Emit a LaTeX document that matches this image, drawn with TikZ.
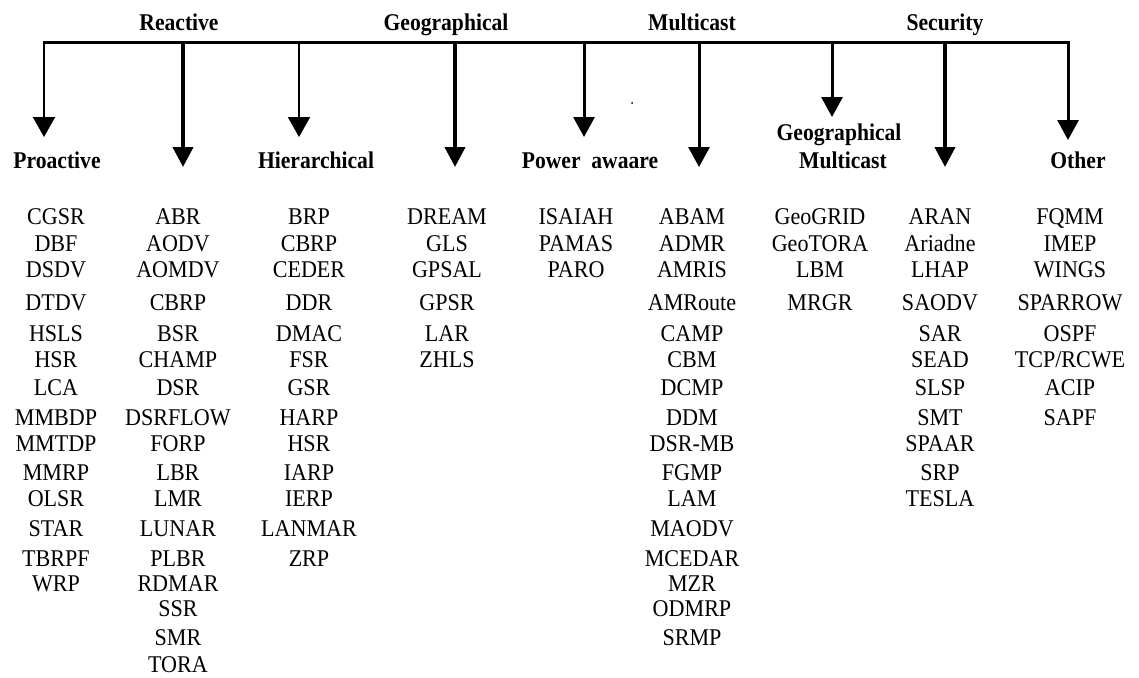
\documentclass[tikz,border=0pt]{standalone}
\usepackage{fontspec}
\usetikzlibrary{arrows.meta}
\newfontfamily\itemfont[FakeStretch=0.92]{Liberation Serif}
\newfontfamily\headfont[FakeStretch=0.9]{Liberation Serif}
\tikzset{
  item/.style={font=\itemfont\fontsize{24}{26}\selectfont, inner sep=0pt, text height=16pt, text depth=0pt, anchor=center},
  head/.style={font=\headfont\bfseries\fontsize{24}{26}\selectfont, inner sep=0pt, text height=16pt, text depth=0pt, anchor=center},
  bus/.style={line width=3pt, line cap=rect},
  thinarrow/.style={line width=2pt, -{Triangle[width=22pt,length=20pt]}},
  midarrow/.style={line width=3pt, -{Triangle[width=21pt,length=20pt]}},
  thickarrow/.style={line width=4pt, -{Triangle[width=20pt,length=20pt]}},
}
\newcommand\mkcol[3]{%
  \foreach \t [count=\i] in {#3} {%
    \pgfmathsetmacro\myrowy{{216,243,269,302,333,359,387,417,443,472,498,528,558,583,608,637,664}[\i-1]}%
    \node[item] (#1\i) at (#2,\myrowy) {\t};
  }%
}
\begin{document}
\begin{tikzpicture}[x=1pt,y=-1pt]
\useasboundingbox (0,0) rectangle (1139,677);
% top labels
\node[head] (hReactive) at (179,23) {Reactive};
\node[head] (hGeo) at (446,23) {Geographical};
\node[head] (hMulti) at (692,23) {Multicast};
\node[head] (hSec) at (945,23) {Security};
% bus
\coordinate (busL) at (44,43);
\coordinate (busR) at (1068,43);
\draw[bus] (busL) -- (busR);
% branch points
\coordinate (bPro) at (44,43);
\coordinate (bRea) at (183,43);
\coordinate (bHie) at (299,43);
\coordinate (bGeo) at (455,43);
\coordinate (bPow) at (584,43);
\coordinate (bMul) at (699,43);
\coordinate (bGM) at (832,43);
\coordinate (bSec) at (945,43);
\coordinate (bOth) at (1068,43);
% tips
\coordinate (tPro) at (44,137);
\coordinate (tRea) at (183,167);
\coordinate (tHie) at (299,137);
\coordinate (tGeo) at (455,167);
\coordinate (tPow) at (584,137);
\coordinate (tMul) at (699,167);
\coordinate (tGM) at (832,117);
\coordinate (tSec) at (945,167);
\coordinate (tOth) at (1068,140);
\draw[thinarrow] (bPro) -- (tPro);
\draw[thickarrow] (bRea) -- (tRea);
\draw[thinarrow] (bHie) -- (tHie);
\draw[thickarrow] (bGeo) -- (tGeo);
\draw[midarrow] (bPow) -- (tPow);
\draw[midarrow] (bMul) -- (tMul);
\draw[midarrow] (bGM) -- (tGM);
\draw[thickarrow] (bSec) -- (tSec);
\draw[midarrow] (bOth) -- (tOth);
% second-level labels
\node[head] (lPro) at (57,160) {Proactive};
\node[head] (lHie) at (316,160) {Hierarchical};
\node[head] (lPow) at (590,160) {Power\ \ awaare};
\node[head] (lGM1) at (839,132) {Geographical};
\node[head] (lGM2) at (843,160) {Multicast};
\node[head] (lOth) at (1078,160) {Other};
% stray dot
\fill (632,103) circle (1pt);
% columns
\mkcol{pro}{56}{CGSR,DBF,DSDV,DTDV,HSLS,HSR,LCA,MMBDP,MMTDP,MMRP,OLSR,STAR,TBRPF,WRP}
\mkcol{rea}{178}{ABR,AODV,AOMDV,CBRP,BSR,CHAMP,DSR,DSRFLOW,FORP,LBR,LMR,LUNAR,PLBR,RDMAR,SSR,SMR,TORA}
\mkcol{hie}{309}{BRP,CBRP,CEDER,DDR,DMAC,FSR,GSR,HARP,HSR,IARP,IERP,LANMAR,ZRP}
\mkcol{geo}{447}{DREAM,GLS,GPSAL,GPSR,LAR,ZHLS}
\mkcol{pow}{576}{ISAIAH,PAMAS,PARO}
\mkcol{mul}{692}{ABAM,ADMR,AMRIS,AMRoute,CAMP,CBM,DCMP,DDM,DSR-MB,FGMP,LAM,MAODV,MCEDAR,MZR,ODMRP,SRMP}
\mkcol{gm}{820}{GeoGRID,GeoTORA,LBM,MRGR}
\mkcol{sec}{940}{ARAN,Ariadne,LHAP,SAODV,SAR,SEAD,SLSP,SMT,SPAAR,SRP,TESLA}
\mkcol{oth}{1070}{FQMM,IMEP,WINGS,SPARROW,OSPF,TCP/RCWE,ACIP,SAPF}
\end{tikzpicture}
\end{document}
